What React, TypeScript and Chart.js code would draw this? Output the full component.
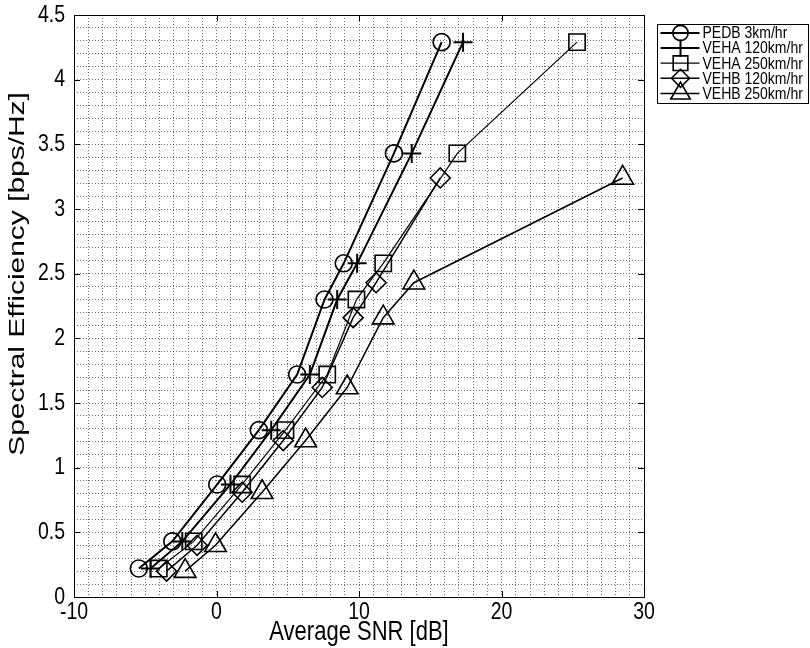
import React, { useEffect, useRef } from 'react';
import { Chart, registerables } from 'chart.js';
import { drawPoint } from 'chart.js/helpers';

Chart.register(...registerables);

// Spectral efficiency levels (bps/Hz) reached by each link-adaptation mode
const vehaLevels = [0.22, 0.43, 0.87, 1.29, 1.72, 2.30, 2.58, 3.43, 4.29];
const vehbLevels = [0.20, 0.40, 0.81, 1.21, 1.62, 2.16, 2.43, 3.24];

// Average SNR (dB) needed for each level, per channel model / speed
const pedb3Snr = [-5.45, -3.1, 0.05, 2.97, 5.66, 7.58, 8.93, 12.45, 15.8];
const veha120Snr = [-4.63, -2.4, 0.98, 3.84, 6.55, 8.47, 9.87, 13.7, 17.3];
const veha250Snr = [-4.05, -1.6, 1.8, 4.84, 7.77, 9.82, 11.7, 16.9, 25.3];
const vehb120Snr = [-3.5, -1.36, 1.8, 4.68, 7.42, 9.59, 11.2, 15.7];
const vehb250Snr = [-2.2, -0.07, 3.2, 6.25, 9.17, 11.7, 13.85, 28.5];

const seriesNames = ['PEDB 3km/hr', 'VEHA 120km/hr', 'VEHA 250km/hr', 'VEHB 120km/hr', 'VEHB 250km/hr'];

const xTitle = 'Average SNR [dB]';
const yTitle = 'Spectral Efficiency [bps/Hz]';

const FONT = "'Liberation Sans', Arial, Helvetica, sans-serif";

const seriesStyle = [
  { pointStyle: 'circle', radius: 8.5, lineWidth: 2, markerWidth: 1.6 },
  { pointStyle: 'cross', radius: 9.5, lineWidth: 2, markerWidth: 2 },
  { pointStyle: 'rect', radius: 11.5, lineWidth: 1.2, markerWidth: 1.6 },
  { pointStyle: 'rectRot', radius: 10, lineWidth: 1.5, markerWidth: 1.6 },
  { pointStyle: 'triangle', radius: 12.5, lineWidth: 1.5, markerWidth: 1.6 },
];

const seriesData = [
  { snr: pedb3Snr, levels: vehaLevels },
  { snr: veha120Snr, levels: vehaLevels },
  { snr: veha250Snr, levels: vehaLevels },
  { snr: vehb120Snr, levels: vehbLevels },
  { snr: vehb250Snr, levels: vehbLevels },
];

// Axis text is drawn slightly tall (vertically stretched glyphs)
function stretchedText(ctx: any, text: string, x: number, y: number, size: number, sy: number, align: string, baseline: string) {
  ctx.save();
  ctx.translate(x, y);
  ctx.scale(1, sy);
  ctx.font = `${size}px ${FONT}`;
  ctx.textAlign = align;
  ctx.textBaseline = baseline;
  ctx.fillText(text, 0, 0);
  ctx.restore();
}

const axisTextPlugin = {
  id: 'axisText',
  afterDraw(chart: any) {
    const { ctx, chartArea: a, scales } = chart;
    ctx.save();
    ctx.fillStyle = '#000';
    for (const t of scales.x.ticks) {
      if (t.label === '' || t.label == null) continue;
      stretchedText(ctx, String(t.label), scales.x.getPixelForValue(t.value), a.bottom + 4, 19.5, 1.22, 'center', 'top');
    }
    for (const t of scales.y.ticks) {
      if (t.label === '' || t.label == null) continue;
      stretchedText(ctx, String(t.label), a.left - 9, scales.y.getPixelForValue(t.value), 19.5, 1.22, 'right', 'middle');
    }
    // x title
    stretchedText(ctx, xTitle, (a.left + a.right) / 2, 633, 22, 1.22, 'center', 'middle');
    // y title, rotated; its length runs along the stretched direction
    ctx.save();
    ctx.translate(18, a.top + (a.bottom - a.top) * 0.445);
    ctx.scale(1, 1.36);
    ctx.rotate(-Math.PI / 2);
    ctx.font = `22px ${FONT}`;
    ctx.textAlign = 'center';
    ctx.textBaseline = 'middle';
    ctx.fillText(yTitle, 0, 0);
    ctx.restore();
    ctx.restore();
  },
};

// Axes frame with inward major ticks on all four sides
const framePlugin = {
  id: 'frame',
  afterDraw(chart: any) {
    const { ctx, chartArea: a, scales } = chart;
    ctx.save();
    ctx.strokeStyle = '#000';
    ctx.lineWidth = 1;
    const tl = 6;
    ctx.beginPath();
    for (const t of scales.x.ticks) {
      if (t.label === '') continue;
      const px = Math.round(scales.x.getPixelForValue(t.value)) + 0.5;
      ctx.moveTo(px, a.bottom);
      ctx.lineTo(px, a.bottom - tl);
      ctx.moveTo(px, a.top);
      ctx.lineTo(px, a.top + tl);
    }
    for (const t of scales.y.ticks) {
      if (t.label === '') continue;
      const py = Math.round(scales.y.getPixelForValue(t.value)) + 0.5;
      ctx.moveTo(a.left, py);
      ctx.lineTo(a.left + tl, py);
      ctx.moveTo(a.right, py);
      ctx.lineTo(a.right - tl, py);
    }
    ctx.stroke();
    ctx.strokeRect(Math.round(a.left) + 0.5, Math.round(a.top) + 0.5, Math.round(a.right - a.left), Math.round(a.bottom - a.top));
    ctx.restore();
  },
};

// Boxed legend to the right of the axes
const legendPlugin = {
  id: 'boxLegend',
  afterDraw(chart: any) {
    const { ctx, chartArea: a } = chart;
    const bx = Math.round(a.right) + 13.5;
    const by = 24.5;
    const bw = 151;
    const bh = 79;
    const rowGap = 15.1;
    ctx.save();
    ctx.fillStyle = '#fff';
    ctx.fillRect(bx, by, bw, bh);
    ctx.strokeStyle = '#000';
    ctx.lineWidth = 1;
    ctx.strokeRect(bx, by, bw, bh);
    chart.data.datasets.forEach((ds: any, i: number) => {
      const st = seriesStyle[i];
      const y = by + 8.5 + i * rowGap;
      ctx.strokeStyle = '#000';
      ctx.lineWidth = st.lineWidth;
      ctx.beginPath();
      ctx.moveTo(bx + 3, y);
      ctx.lineTo(bx + 42, y);
      ctx.stroke();
      ctx.fillStyle = 'rgba(0,0,0,0)';
      ctx.lineWidth = st.markerWidth;
      drawPoint(ctx, { pointStyle: st.pointStyle, radius: st.radius * 0.9, rotation: 0, borderWidth: st.markerWidth } as any, bx + 23, y);
      ctx.fillStyle = '#000';
      stretchedText(ctx, ds.label, bx + 45, y + 1, 14, 1.12, 'left', 'middle');
    });
    ctx.restore();
  },
};

export default function App() {
  const ref = useRef<HTMLCanvasElement>(null);

  useEffect(() => {
    if (!ref.current) return;
    const datasets = seriesData.map((s, i) => ({
      label: seriesNames[i],
      data: s.snr.map((x, k) => ({ x, y: s.levels[k] })),
      showLine: true,
      tension: 0,
      borderColor: '#000',
      backgroundColor: 'rgba(0,0,0,0)',
      borderWidth: seriesStyle[i].lineWidth,
      pointStyle: seriesStyle[i].pointStyle,
      pointRadius: seriesStyle[i].radius,
      pointBorderWidth: seriesStyle[i].markerWidth,
      pointBorderColor: '#000',
      pointBackgroundColor: 'rgba(0,0,0,0)',
      clip: false as any,
    }));

    const gridStyle = {
      color: '#6e6e6e',
      lineWidth: 1,
      drawTicks: false,
      tickLength: 0,
    };

    const chart = new Chart(ref.current, {
      type: 'scatter',
      data: { datasets },
      options: {
        responsive: false,
        animation: false,
        layout: { padding: { left: 0, top: 15, right: 166, bottom: 0 } },
        plugins: {
          legend: { display: false },
          tooltip: { enabled: false },
        },
        scales: {
          x: {
            type: 'linear',
            min: -10,
            max: 30,
            grid: gridStyle,
            border: { display: false, dash: [1, 2] },
            ticks: {
              display: false,
              stepSize: 1,
              autoSkip: false,
              callback: (v: any) => (Math.round(v) % 10 === 0 ? String(Math.round(v)) : ''),
            },
            afterFit: (scale: any) => {
              scale.height = 51;
            },
          },
          y: {
            type: 'linear',
            min: 0,
            max: 4.5,
            grid: gridStyle,
            border: { display: false, dash: [1, 2] },
            ticks: {
              display: false,
              stepSize: 0.1,
              autoSkip: false,
              callback: (v: any) => {
                const r = Math.round(v * 10);
                return r % 5 === 0 ? String(r / 10) : '';
              },
            },
            afterFit: (scale: any) => {
              scale.width = 74;
            },
          },
        },
      },
      plugins: [framePlugin, axisTextPlugin, legendPlugin],
    });
    return () => chart.destroy();
  }, []);

  return (
    <div style={{ position: 'fixed', left: 0, top: 0, width: 810, height: 648, background: '#fff' }}>
      <canvas ref={ref} width={810} height={648} style={{ display: 'block' }} />
    </div>
  );
}
